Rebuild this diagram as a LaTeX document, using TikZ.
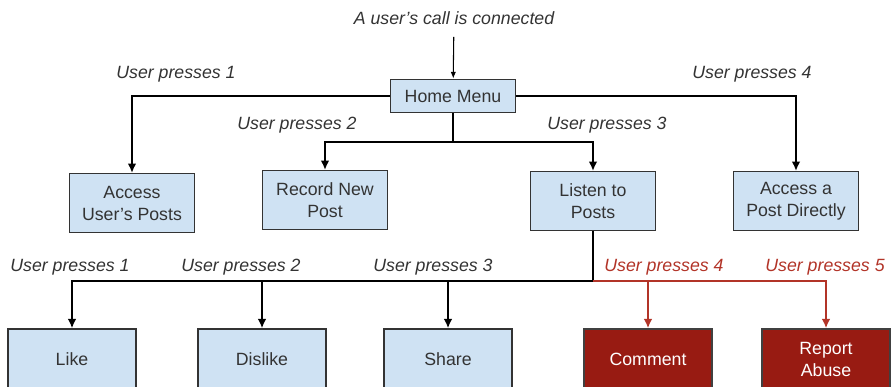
\documentclass[tikz,border=0pt]{standalone}
\usepackage{fontspec}
\setmainfont{Liberation Sans}
\usepackage{xcolor}
\usetikzlibrary{positioning,arrows.meta}
\definecolor{boxblue}{RGB}{207,226,243}
\definecolor{boxred}{RGB}{152,27,18}
\definecolor{linered}{RGB}{178,52,40}
\definecolor{txtgray}{RGB}{51,51,51}

\begin{document}
\begin{tikzpicture}[
  x=0.75pt, y=-0.75pt,
  menubox/.style={draw=txtgray, line width=1.1pt, fill=boxblue, text=txtgray,
                  align=center, minimum width=94pt, minimum height=44pt,
                  inner sep=2pt, font=\fontsize{13.3}{16.5}\selectfont},
  lowbox/.style={menubox, minimum width=96pt, minimum height=45pt},
  redbox/.style={lowbox, fill=boxred, draw=black!75, text=white},
  arr/.style={-{Latex[length=7pt,width=6.5pt]}, line width=1.5pt},
  redarr/.style={arr, draw=linered},
  thinarr/.style={-{Latex[length=5pt,width=4pt]}, line width=0.8pt},
  lbl/.style={font=\fontsize{13.3}{16}\selectfont\itshape, text=txtgray, inner sep=1pt},
  redlbl/.style={lbl, text=linered},
]
\clip (0,0) rectangle (891,386);

%% Nodes
\node[lbl] (call) at (454,18) {A user's call is connected};
\node[menubox, minimum height=25pt] (home) at (453,96) {Home Menu};

\node[menubox] (userposts) at (132,203) {Access\\User's Posts};
\node[menubox] (record)    at (325,200) {Record New\\Post};
\node[menubox] (listen)    at (593,201) {Listen to\\Posts};
\node[menubox] (direct)    at (796,201) {Access a\\Post Directly};

\node[lowbox] (like)    at (72,359)  {Like};
\node[lowbox] (dislike) at (262,359) {Dislike};
\node[lowbox] (share)   at (448,359) {Share};
\node[redbox] (comment) at (648,359) {Comment};
\node[redbox] (report)  at (826,359) {Report\\Abuse};

\coordinate (split) at (453,142);
\coordinate (fork)  at (593,281);

%% Labels
\node[lbl] (p1) at (176,74)  {User presses 1};
\node[lbl] (p2) at (297,125) {User presses 2};
\node[lbl] (p3) at (607,125) {User presses 3};
\node[lbl] (p4) at (752,74)  {User presses 4};

\node[lbl]    (q1) at (70,267)  {User presses 1};
\node[lbl]    (q2) at (241,267) {User presses 2};
\node[lbl]    (q3) at (433,267) {User presses 3};
\node[redlbl] (q4) at (664,267) {User presses 4};
\node[redlbl] (q5) at (825,267) {User presses 5};

%% Transitions
% incoming call
\draw[thinarr, shorten <=8pt] (call) -- (home);

% home menu -> options 1 and 4
\draw[arr] (home.west) -| (userposts);
\draw[arr] (home.east) -| (direct);

% home menu -> options 2 and 3
\draw[arr] (home) -- (split) -| (record);
\draw[arr] (split) -| (listen);

% listen -> post actions
\draw[line width=1.5pt] (listen) -- (fork);
\draw[arr] (fork) -| (like);
\draw[arr] (fork) -| (dislike);
\draw[arr] (fork) -| (share);
\draw[redarr] (fork) -| (comment);
\draw[redarr] (fork) -| (report);

\end{tikzpicture}
\end{document}
